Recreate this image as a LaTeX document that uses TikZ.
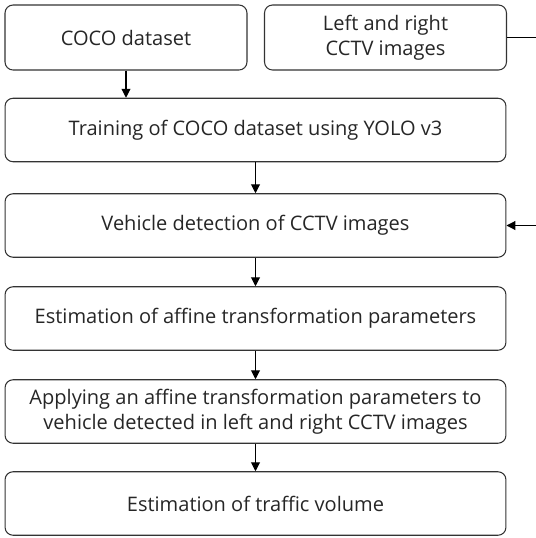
\documentclass[tikz,border=0pt]{standalone}
\usepackage{fontspec}
\setmainfont{Open Sans}
\definecolor{BoxLine}{gray}{0.2}
\usetikzlibrary{arrows.meta,positioning,calc}

\begin{document}
\begin{tikzpicture}[x=0.02cm,y=-0.02cm,
		stepbox/.style={draw=BoxLine,line width=0.6pt,rounded corners=0.16cm,
			align=center,inner sep=0pt,text=black!85,font=\fontsize{11.4}{14}\selectfont},
		widebox/.style={stepbox,minimum width=10.02cm,minimum height=1.27cm},
		smallbox/.style={stepbox,minimum width=4.84cm,minimum height=1.3cm},
		flow/.style={-{Triangle[length=5pt,width=5pt]},line width=0.6pt}
	]
	\useasboundingbox (0,0) rectangle (536,538);
	\node[smallbox] (coco) at (126,37.5) {COCO dataset};
	\node[smallbox] (cctv) at (385.5,37.5) {Left and right\\CCTV images};
	\node[widebox] (train) at (255.5,130) {Training of COCO dataset using YOLO v3};
	\node[widebox] (detect) at (255.5,225.5) {Vehicle detection of CCTV images};
	\node[widebox] (affine) at (255.5,318.5) {Estimation of affine transformation parameters};
	\node[widebox] (apply) at (255.5,411.5) {Applying an affine transformation parameters to\\vehicle detected in left and right CCTV images};
	\node[widebox] (volume) at (255.5,503.5) {Estimation of traffic volume};
	\coordinate (turn) at (539,37.5);

	%\draw[flow] (coco) -- (train);
	\draw[flow] (coco.south) -- (coco.south |- train.north);
	\draw[flow] (train) -- (detect);
	\draw[flow] (detect) -- (affine);
	\draw[flow] (affine) -- (apply);
	\draw[flow] (apply) -- (volume);
	\draw[flow] (cctv.east) -- (turn) |- (detect.east);
\end{tikzpicture}
\end{document}
